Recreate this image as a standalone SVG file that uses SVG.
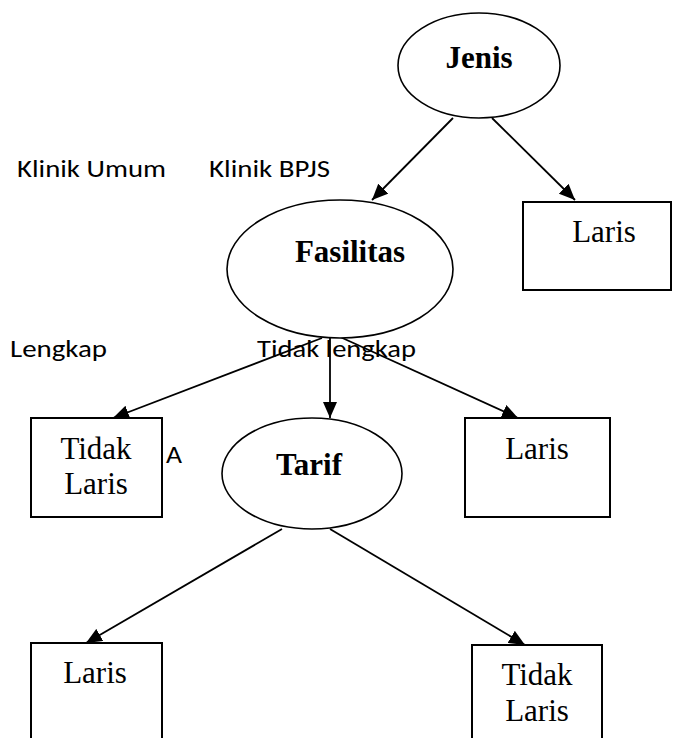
<svg xmlns="http://www.w3.org/2000/svg" width="674" height="738" viewBox="0 0 674 738">
<style>
.bg{fill:#fff}
.node{fill:#fff;stroke:#000;stroke-width:1.6}
.box{fill:#fff;stroke:#000;stroke-width:2}
.ser{font-family:"Liberation Serif","Times New Roman",serif;font-size:31px;fill:#000;text-anchor:middle}
.b{font-weight:bold}
.sans{font-family:Carlito,Calibri,"Open Sans","Noto Sans",sans-serif;font-size:25px;fill:#000}
.edge{stroke:#000;stroke-width:1.8;fill:none;marker-end:url(#ah)}
</style>
<defs>
<marker id="ah" markerUnits="userSpaceOnUse" markerWidth="17" markerHeight="14" refX="16" refY="7" orient="auto">
<path d="M0,0 L16,7 L0,14 z" fill="#000"/>
</marker>
</defs>
<rect class="bg" x="0" y="0" width="674" height="738"/>
<g id="labels">
<text class="sans" x="17" y="177" textLength="149" lengthAdjust="spacingAndGlyphs">Klinik Umum</text>
<text class="sans" x="209" y="177" textLength="121" lengthAdjust="spacingAndGlyphs">Klinik BPJS</text>
<text class="sans" x="10" y="357" textLength="97" lengthAdjust="spacingAndGlyphs">Lengkap</text>
<text class="sans" x="257" y="357" textLength="159" lengthAdjust="spacingAndGlyphs">Tidak lengkap</text>
<text class="sans" x="166" y="463" textLength="16" lengthAdjust="spacingAndGlyphs">A</text>
</g>
<g id="connectors">
<line class="edge" x1="453" y1="118" x2="372" y2="200"/>
<line class="edge" x1="492" y1="118" x2="575" y2="200"/>
<line class="edge" x1="322" y1="338" x2="113" y2="418"/>
<line class="edge" x1="330" y1="338" x2="330" y2="418"/>
<line class="edge" x1="338" y1="336" x2="518" y2="418"/>
<line class="edge" x1="282" y1="529" x2="86" y2="643"/>
<line class="edge" x1="330" y1="529" x2="525" y2="645"/>
</g>
<g id="jenis">
<ellipse class="node" cx="479" cy="65.5" rx="81" ry="52.5"/>
<text class="ser b" x="479" y="68">Jenis</text>
</g>
<g id="fasilitas">
<ellipse class="node" cx="340" cy="269" rx="113" ry="69"/>
<text class="ser b" x="350" y="262">Fasilitas</text>
</g>
<g id="laris1">
<rect class="box" x="523" y="202" width="148" height="88"/>
<text class="ser" x="604" y="242">Laris</text>
</g>
<g id="tidaklaris1">
<rect class="box" x="31" y="418" width="131" height="99"/>
<text class="ser" x="96" y="459">Tidak</text>
<text class="ser" x="96" y="494">Laris</text>
</g>
<g id="tarif">
<ellipse class="node" cx="312" cy="473.5" rx="90" ry="55.5"/>
<text class="ser b" x="309" y="475">Tarif</text>
</g>
<g id="laris2">
<rect class="box" x="465" y="418" width="145" height="99"/>
<text class="ser" x="537" y="459">Laris</text>
</g>
<g id="laris3">
<rect class="box" x="31" y="643" width="131" height="110"/>
<text class="ser" x="95" y="683">Laris</text>
</g>
<g id="tidaklaris2">
<rect class="box" x="472" y="645" width="130" height="110"/>
<text class="ser" x="537" y="685">Tidak</text>
<text class="ser" x="537" y="721">Laris</text>
</g>
</svg>
